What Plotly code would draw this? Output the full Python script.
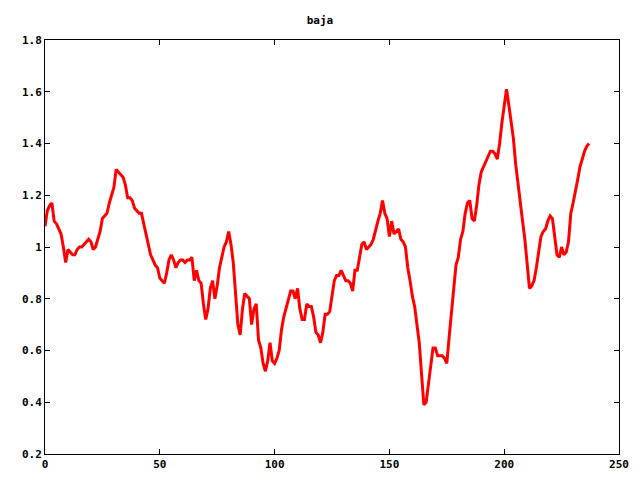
import plotly.graph_objects as go

title_text = "baja"
y_values = [
    1.08, 1.14, 1.16, 1.17, 1.10, 1.09, 1.07, 1.05, 1.00, 0.94,
    0.99, 0.98, 0.97, 0.97, 0.99, 1.00, 1.00, 1.01, 1.02, 1.03,
    1.02, 0.99, 1.00, 1.03, 1.06, 1.11, 1.12, 1.13, 1.17, 1.20,
    1.23, 1.30, 1.29, 1.28, 1.27, 1.24, 1.19, 1.19, 1.18, 1.15,
    1.14, 1.13, 1.13, 1.09, 1.04, 1.00, 0.97, 0.95, 0.93, 0.92,
    0.88, 0.87, 0.86, 0.90, 0.95, 0.97, 0.95, 0.92, 0.94, 0.95,
    0.95, 0.94, 0.95, 0.95, 0.96, 0.87, 0.91, 0.87, 0.86, 0.78,
    0.72, 0.76, 0.84, 0.87, 0.80, 0.85, 0.92, 0.96, 1.00, 1.02,
    1.06, 1.01, 0.94, 0.82, 0.70, 0.66, 0.76, 0.82, 0.81, 0.80,
    0.70, 0.76, 0.78, 0.64, 0.61, 0.55, 0.52, 0.56, 0.63, 0.56,
    0.55, 0.57, 0.60, 0.68, 0.73, 0.76, 0.80, 0.83, 0.83, 0.80,
    0.84, 0.76, 0.72, 0.72, 0.78, 0.77, 0.77, 0.73, 0.67, 0.66,
    0.63, 0.67, 0.74, 0.74, 0.75, 0.81, 0.87, 0.89, 0.89, 0.91,
    0.89, 0.87, 0.87, 0.86, 0.83, 0.91, 0.91, 0.96, 1.01, 1.02,
    0.99, 1.00, 1.01, 1.03, 1.07, 1.10, 1.13, 1.18, 1.13, 1.11,
    1.04, 1.10, 1.05, 1.06, 1.07, 1.03, 1.02, 1.00, 0.92, 0.87,
    0.81, 0.77, 0.70, 0.63, 0.51, 0.39, 0.40, 0.47, 0.56, 0.61,
    0.61, 0.58, 0.58, 0.58, 0.57, 0.55, 0.65, 0.75, 0.86, 0.93,
    0.96, 1.03, 1.06, 1.13, 1.17, 1.18, 1.11, 1.10, 1.16, 1.24,
    1.29, 1.31, 1.33, 1.35, 1.37, 1.37, 1.36, 1.34, 1.40, 1.48,
    1.55, 1.61, 1.55, 1.49, 1.42, 1.32, 1.24, 1.17, 1.10, 1.03,
    0.92, 0.84, 0.85, 0.87, 0.92, 0.99, 1.04, 1.06, 1.07, 1.10,
    1.12, 1.11, 1.05, 0.97, 0.96, 1.00, 0.97, 0.98, 1.02, 1.13,
    1.17, 1.21, 1.26, 1.31, 1.34, 1.37, 1.39, 1.40,
]
x_values = list(range(len(y_values)))

x_tickvals = [0, 50, 100, 150, 200, 250]
x_ticktext = ["0", "50", "100", "150", "200", "250"]
y_tickvals = [0.2, 0.4, 0.6, 0.8, 1.0, 1.2, 1.4, 1.6, 1.8]
y_ticktext = ["0.2", "0.4", "0.6", "0.8", "1", "1.2", "1.4", "1.6", "1.8"]

font = dict(family="DejaVu Sans Mono", size=11, color="black")

fig = go.Figure()
fig.add_trace(go.Scatter(
    x=x_values, y=y_values, mode="lines",
    line=dict(color="#ff0000", width=3),
    showlegend=False, hoverinfo="skip",
))

axis_common = dict(
    showgrid=False, zeroline=False, showline=True, linecolor="black",
    linewidth=1, mirror="ticks", ticks="inside", ticklen=5, tickwidth=1,
    tickcolor="black", tickfont=font, automargin=False,
)

# page body has an 8px margin, so the figure is drawn 8px in from the edges
fig.update_layout(
    width=632, height=472,
    paper_bgcolor="white", plot_bgcolor="white",
    margin=dict(l=37, r=21, t=32, b=26, autoexpand=False),
    title=dict(text="<b>" + title_text + "</b>", x=(320 - 8) / 632, xanchor="center",
               y=1 - 12 / 472, yanchor="middle", font=font),
    xaxis=dict(range=[0, 250], tickvals=x_tickvals,
               ticktext=["<b>" + t + "</b>" for t in x_ticktext], **axis_common),
    yaxis=dict(range=[0.2, 1.8], tickvals=y_tickvals,
               ticktext=["<b>" + t + "</b>" for t in y_ticktext], **axis_common),
    font=font,
)

fig.write_html("out.html")
